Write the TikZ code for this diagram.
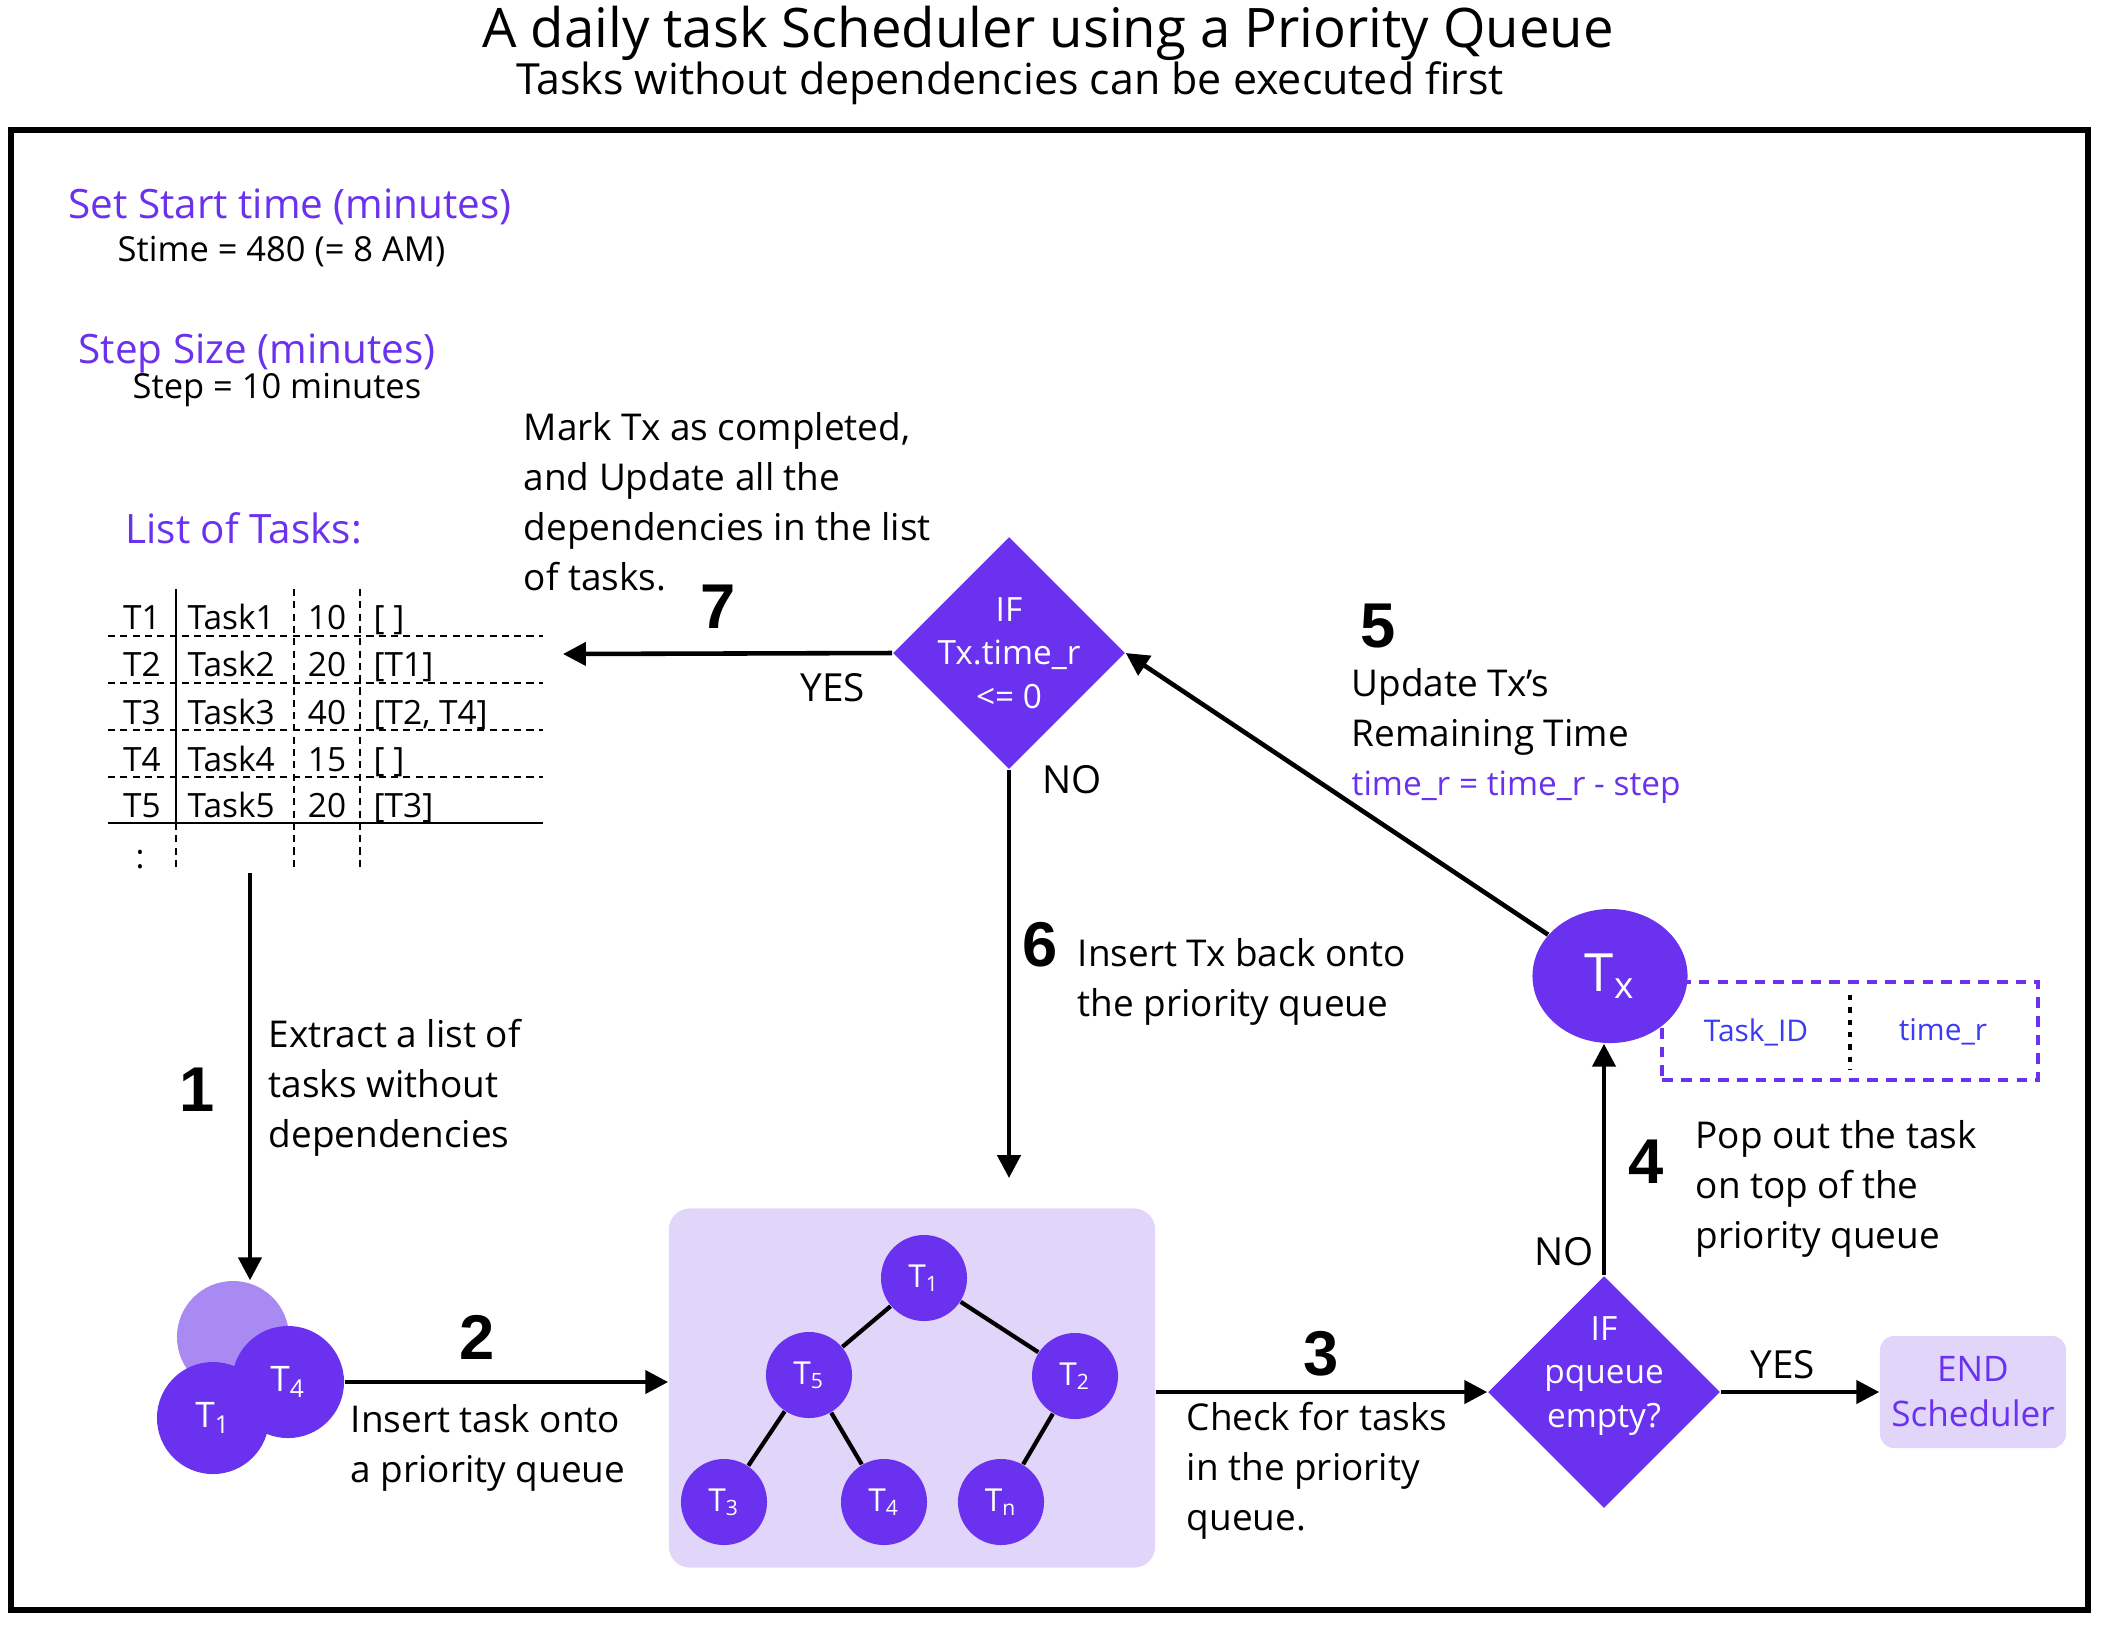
\documentclass[tikz,border=0pt]{standalone}
\usepackage{fontspec}
\setmainfont{Open Sans}
\newfontfamily\stepfont{Liberation Sans}
\usepackage{tikz}
\usetikzlibrary{shapes.geometric,arrows.meta}
\definecolor{pqpurple}{HTML}{6A31EE}
\definecolor{pqlight}{HTML}{A98AF3}
\definecolor{pqpale}{HTML}{E1D5FA}
\definecolor{pqblue}{HTML}{3B3BF2}

\begin{document}
\begin{tikzpicture}[x=0.01cm, y=-0.01cm]
	\tikzset{
		arr/.style = {-{Triangle[length=6.5pt,width=6.5pt]}, line width=1.3pt},
		note/.style = {align=left, anchor=west, inner sep=0pt, font=\fontsize{10.5}{14.2}\selectfont},
		stepnum/.style = {inner sep=0pt, font=\stepfont\bfseries\fontsize{18}{18}\selectfont},
		purpletxt/.style = {text=pqpurple, anchor=west, inner sep=0pt, font=\fontsize{11.5}{14}\selectfont},
		decision/.style = {diamond, fill=pqpurple, minimum width=2.32cm, minimum height=2.32cm, inner sep=0pt},
		dtext/.style = {text=white, align=center, inner sep=0pt, font=\fontsize{9.5}{12.4}\selectfont},
		task/.style = {circle, fill=pqpurple, text=white, minimum size=0.86cm, inner sep=0pt, font=\fontsize{9}{9}\selectfont},
		cell/.style = {inner sep=0pt, text height=1.6ex, text depth=0.3ex, font=\fontsize{9.5}{9.5}\selectfont},
		tabdash/.style = {line width=0.5pt, dash pattern=on 2pt off 1.5pt},
		tabline/.style = {line width=0.7pt},
		yesno/.style = {inner sep=0pt, font=\fontsize{11}{11}\selectfont},
		edge/.style = {line width=1.2pt}
	}
	\newcommand\Tsub[1]{T\textsubscript{#1}}
	\useasboundingbox (0,0) rectangle (2106,1626);

	\node[font=\fontsize{15.5}{17}\selectfont] (title) at (1048,33) {A daily task Scheduler using a Priority Queue};
	\node[font=\fontsize{12.2}{14}\selectfont] (subtitle) at (1010,83) {Tasks without dependencies can be executed first};
	\draw[line width=1.8pt] (11,130) rectangle (2088,1610);

	\node[purpletxt] (starthead) at (68,207) {Set Start time (minutes)};
	\node[note, font=\fontsize{9.8}{12}\selectfont] (startval) at (117,252) {Stime = 480 (= 8 AM)};
	\node[purpletxt] (stephead) at (78,353) {Step Size (minutes)};
	\node[note, font=\fontsize{9.8}{12}\selectfont] (stepval) at (132,390) {Step = 10 minutes};
	\node[purpletxt] (listhead) at (125,528) {List of Tasks:};

	\foreach \y in {636, 683, 730, 777}
		\draw[tabdash] (108,\y) -- (543,\y);
	\draw[tabline] (108,823) -- (543,823);
	\draw[tabline] (176,589) -- (176,823);
	\draw[tabdash] (176,823) -- (176,870);
	\foreach \x in {294, 360}
		\draw[tabdash] (\x,589) -- (\x,870);
	\foreach \y/\id/\nm/\dur/\dep in {617/T1/Task1/10/{[ ]}, 664/T2/Task2/20/{[T1]}, 712/T3/Task3/40/{[T2, T4]}, 759/T4/Task4/15/{[ ]}, 805/T5/Task5/20/{[T3]}}{
		\node[cell] (id\id) at (142,\y) {\id};
		\node[cell, anchor=west] (nm\id) at (187,\y) {\nm};
		\node[cell] (dur\id) at (327,\y) {\dur};
		\node[cell, anchor=west] (dep\id) at (373,\y) {\dep};
	}
	\node[cell] (more) at (140,856) {:};

	\node[note] (marktext) at (523,502) {Mark Tx as completed,\\and Update all the\\dependencies in the list\\of tasks.};
	\node[stepnum] (n7) at (718,607) {7};
	\node[decision] (d1) at (1009,653) {};
	\node[dtext] (d1txt) at (1009,653) {IF\\Tx.time\_r\\<= 0};
	\coordinate (tabarrow) at (563,654);
	\draw[arr] (d1.west) -- (tabarrow);
	\node[yesno] (yes7) at (833,688) {YES};
	\node[yesno] (no6) at (1072,780) {NO};
	\coordinate (pqtop) at (1009,1178);
	\draw[arr] (d1.south) -- (pqtop);
	\node[stepnum] (n6) at (1040,945) {6};
	\node[note] (text6) at (1077,982) {Insert Tx back onto\\the priority queue};

	\node[draw=pqpurple, line width=1.1pt, dash pattern=on 3pt off 2.3pt, minimum width=3.75cm, minimum height=0.98cm, inner sep=0pt] (tuple) at (1850,1031) {};
	\draw[line width=1.1pt, dash pattern=on 1.5pt off 2pt] (1850,995) -- (1850,1070);
	\node[text=pqblue, font=\fontsize{8.5}{8.5}\selectfont] (taskid) at (1756,1032) {Task\_ID};
	\node[text=pqblue, font=\fontsize{8.5}{8.5}\selectfont] (timer) at (1943,1032) {time\_r};
	\node[ellipse, fill=pqpurple, minimum width=1.55cm, minimum height=1.34cm, inner sep=0pt, text=white, font=\fontsize{15}{15}\selectfont] (tx) at (1610,976) {T\textsubscript{x}};
	\draw[arr] (tx) -- (d1.east);
	\node[stepnum] (n5) at (1378,626) {5};
	\node[note] (text5) at (1351,712) {Update Tx’s\\Remaining Time};
	\node[purpletxt, font=\fontsize{9.5}{12}\selectfont] (formula) at (1351,787) {time\_r = time\_r - step};

	\node[decision] (d2) at (1604,1392) {};
	\node[dtext] (d2txt) at (1604,1376) {IF\\pqueue\\empty?};
	\draw[arr] (d2.north) -- (d2.north |- tx.south);
	\node[stepnum] (n4) at (1646,1162) {4};
	\node[note] (text4) at (1695,1189) {Pop out the task\\on top of the\\priority queue};
	\node[yesno] (no4) at (1564,1252) {NO};
	\node[fill=pqpale, rounded corners=4pt, minimum width=1.86cm, minimum height=1.12cm, inner sep=0pt, text=pqpurple, align=center, font=\fontsize{10}{12.8}\selectfont] (endbox) at (1973,1392) {END\\Scheduler};
	\draw[arr] (d2.east) -- (endbox.west);
	\node[yesno] (yes4) at (1783,1365) {YES};

	\node[fill=pqpale, rounded corners=6pt, minimum width=4.86cm, minimum height=3.59cm, inner sep=0pt] (pqbox) at (912,1388) {};
	\foreach \n/\x/\y in {1/924/1278, 5/809/1375, 2/1075/1376, 3/724/1502, 4/884/1502, n/1001/1502}
		\node[task] (pq\n) at (\x,\y) {\Tsub{\n}};
	\foreach \a/\b in {1/5, 1/2, 5/3, 5/4, 2/n}
		\draw[edge] (pq\a) -- (pq\b);
	\draw[arr] (pqbox.east |- d2.west) -- (d2.west);
	\node[stepnum] (n3) at (1321,1354) {3};
	\node[note] (text3) at (1186,1471) {Check for tasks\\in the priority\\queue.};

	\node[circle, fill=pqlight, minimum size=1.12cm, inner sep=0pt] (ghost) at (233,1337) {};
	\node[task, minimum size=1.12cm, font=\fontsize{10}{10}\selectfont] (t4c) at (288,1382) {\Tsub{4}};
	\node[task, minimum size=1.12cm, font=\fontsize{10}{10}\selectfont] (t1c) at (213,1418) {\Tsub{1}};
	\draw[arr] (t4c.east) -- (pqbox.west |- t4c.east);
	\node[stepnum] (n2) at (477,1337) {2};
	\node[note] (text2) at (350,1448) {Insert task onto\\a priority queue};

	\coordinate (listend) at (250,873);
	\draw[arr] (listend) -- (listend |- ghost.north);
	\node[stepnum] (n1) at (197,1090) {1};
	\node[note] (text1) at (268,1088) {Extract a list of\\tasks without\\dependencies};
\end{tikzpicture}
\end{document}
